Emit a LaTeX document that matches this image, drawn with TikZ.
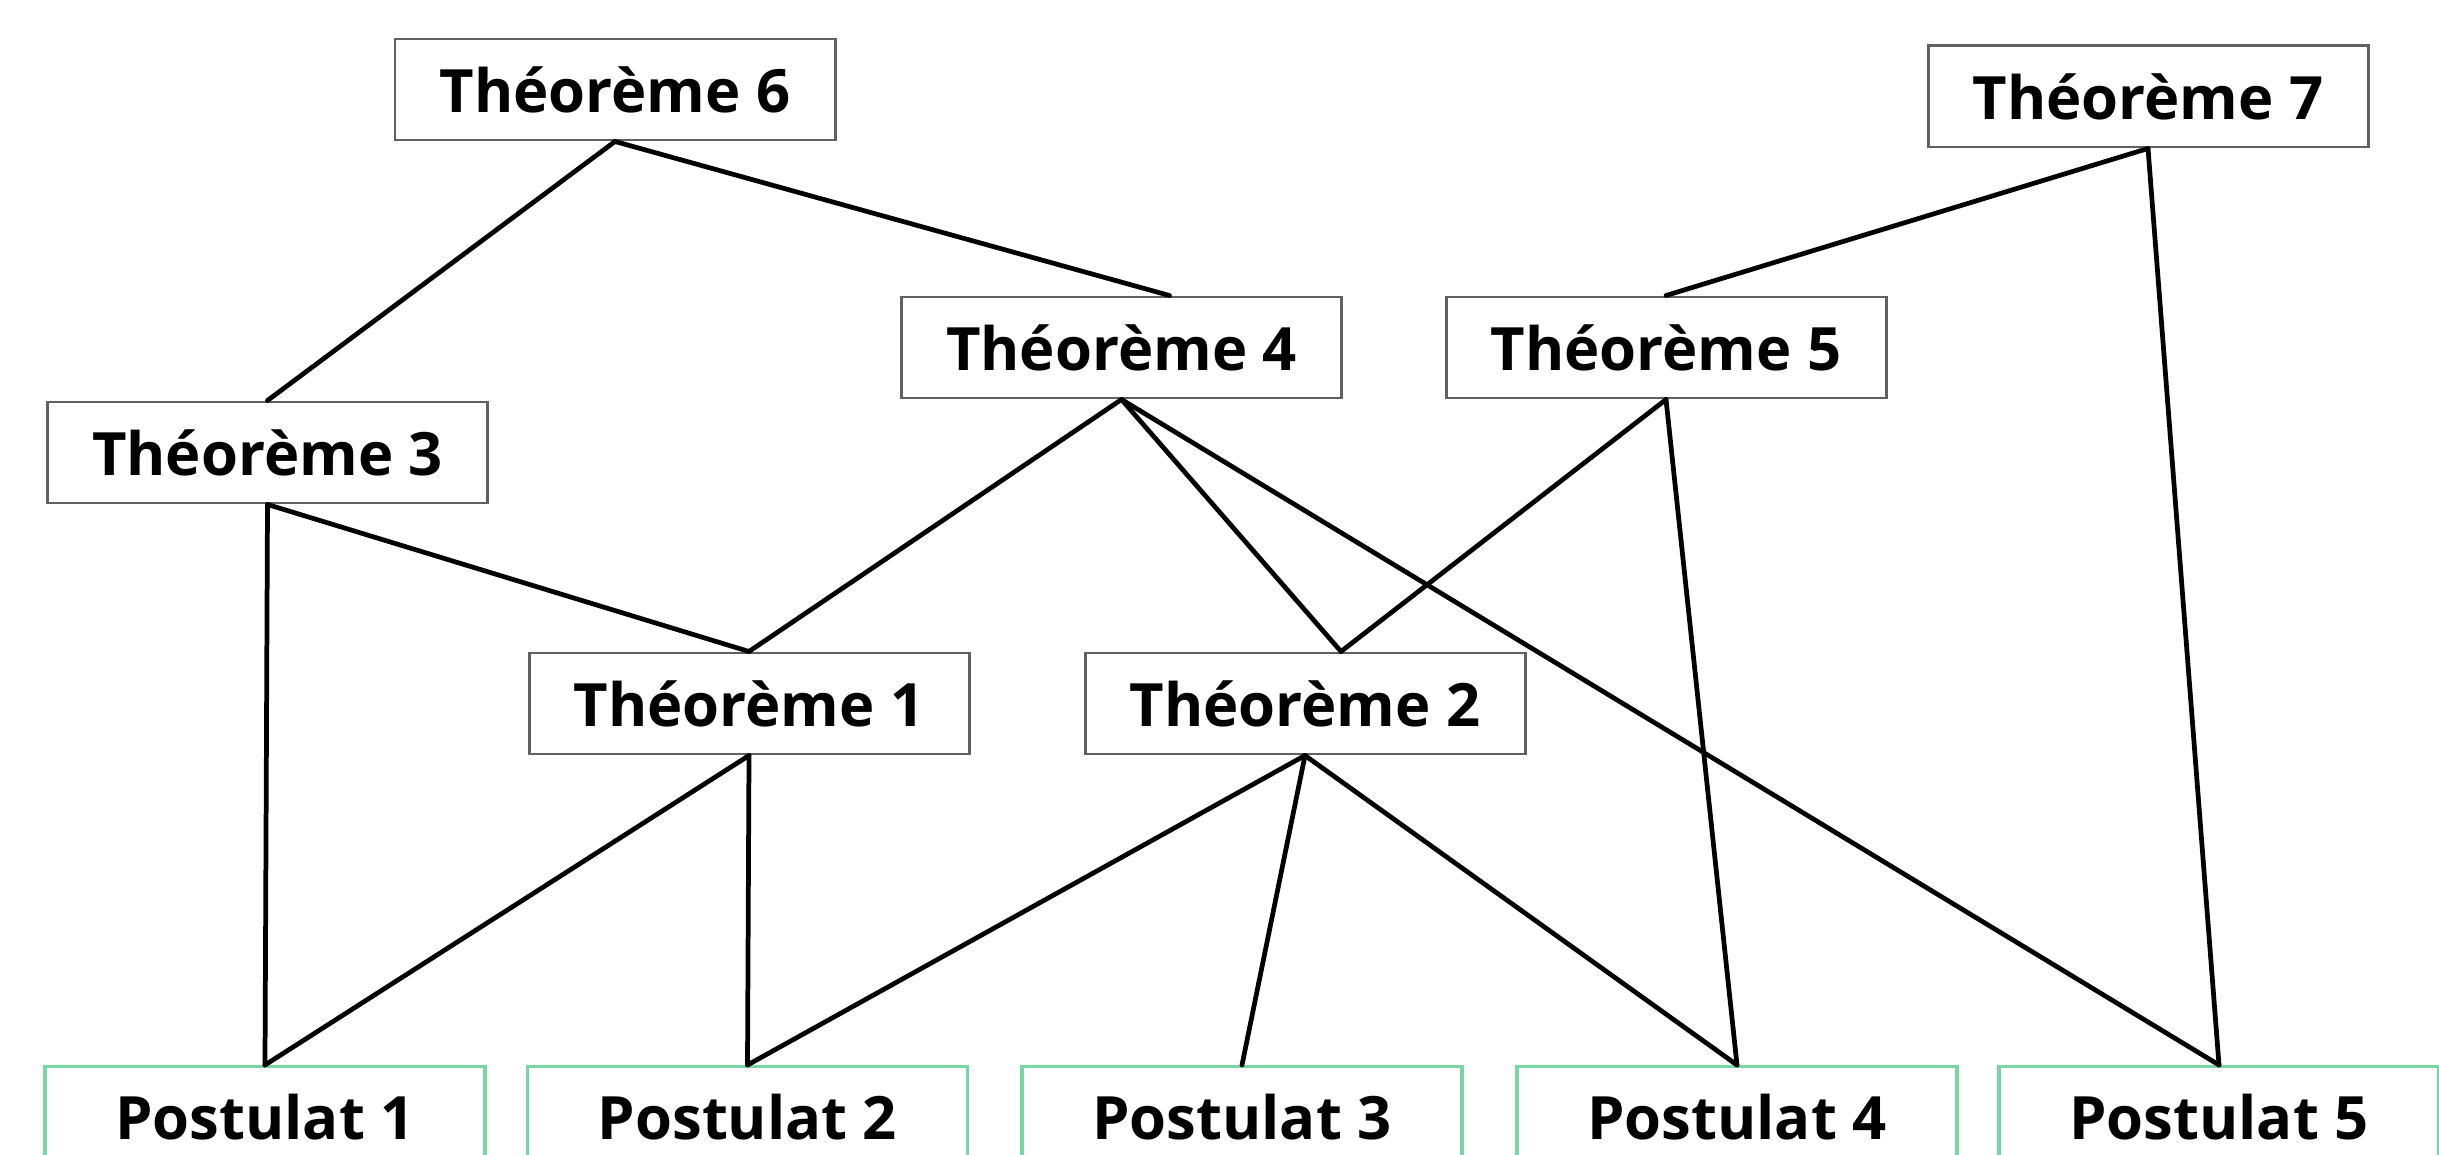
\documentclass[tikz,border=0pt]{standalone}
\usepackage{fontspec}
\setmainfont{Open Sans}
\usepackage{tikz}
\usetikzlibrary{positioning}
\definecolor{postgreen}{RGB}{120,214,162}

\begin{document}
\begin{tikzpicture}[font=\fontsize{17}{20}\selectfont\bfseries,
      thm/.style={draw=black!62, line width=0.85pt, fill=white, minimum width=4.4cm,
        minimum height=1.01cm, inner sep=0pt},
      post/.style={draw=postgreen, line width=0.9pt, fill=white,
        minimum width=4.4cm, minimum height=1.01cm, inner sep=0pt},
      lnk/.style={line width=1.35pt, line cap=round}]
    \clip (0,0) rectangle (24.39,-11.55);
    \fill[white] (0,0) rectangle (24.39,-11.55);
    % theorems
    \node[thm] (th6) at (6.15,-0.895) {Théorème 6};
    \node[thm] (th7) at (21.48,-0.965) {Théorème 7};
    \node[thm] (th4) at (11.215,-3.475) {Théorème 4};
    \node[thm] (th5) at (16.66,-3.475) {Théorème 5};
    \node[thm] (th3) at (2.675,-4.525) {Théorème 3};
    \node[thm] (th1) at (7.49,-7.035) {Théorème 1};
    \node[thm] (th2) at (13.05,-7.035) {Théorème 2};
    % postulates (cut at the bottom)
    \node[post, anchor=north] (po1) at (2.65,-10.65) {Postulat 1};
    \node[post, anchor=north] (po2) at (7.475,-10.65) {Postulat 2};
    \node[post, anchor=north] (po3) at (12.42,-10.65) {Postulat 3};
    \node[post, anchor=north] (po4) at (17.37,-10.65) {Postulat 4};
    \node[post, anchor=north] (po5) at (22.19,-10.65) {Postulat 5};
    % links
    \draw[lnk] (th6.south) -- (th3.north);
    \draw[lnk] (th6.south) -- ([xshift=0.48cm]th4.north);
    \draw[lnk] (th7.south) -- (th5.north);
    \draw[lnk] (th7.south) -- (po5.north);
    \draw[lnk] (th3.south) -- (po1.north);
    \draw[lnk] (th3.south) -- (th1.north);
    \draw[lnk] (th4.south) -- (th1.north);
    \draw[lnk] (th4.south) -- ([xshift=0.36cm]th2.north);
    \draw[lnk] (th4.south) -- (po5.north);
    \draw[lnk] (th5.south) -- ([xshift=0.36cm]th2.north);
    \draw[lnk] (th5.south) -- (po4.north);
    \draw[lnk] (th1.south) -- (po1.north);
    \draw[lnk] (th1.south) -- (po2.north);
    \draw[lnk] (th2.south) -- (po2.north);
    \draw[lnk] (th2.south) -- (po3.north);
    \draw[lnk] (th2.south) -- (po4.north);
\end{tikzpicture}
\end{document}
